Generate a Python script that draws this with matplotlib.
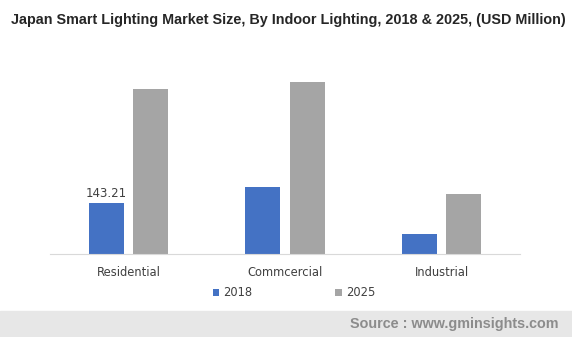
import numpy as np
import matplotlib.pyplot as plt
from matplotlib.patches import Rectangle

categories = ["Residential", "Commcercial", "Industrial"]
years = ["2018", "2025"]
values_2018 = [143.21, 188, 56]
values_2025 = [463, 483, 168]
colors = ["#4472C4", "#A5A5A5"]

plt.rcParams['font.family'] = ['Liberation Sans', 'DejaVu Sans']

fig = plt.figure(figsize=(5.72, 3.37), dpi=100)
W, H = 572, 337

# footer band
fig.patches.append(Rectangle((0, 0), 1, 26 / H, transform=fig.transFigure,
                             color="#e7e7e7", zorder=0))
fig.text(558 / W, 13 / H, "Source : www.gminsights.com", ha="right", va="center",
         fontsize=10.4, fontweight="bold", color="#8c8c8c")

fig.text(288 / W, 317 / H, "Japan Smart Lighting Market Size, By Indoor Lighting, 2018 & 2025, (USD Million)",
         ha="center", va="center", fontsize=10.35, fontweight="bold", color="#262626")

ax = fig.add_axes([50 / W, (337 - 254) / H, 470 / W, 194 / H])
x = np.arange(len(categories))
w = 0.223
b1 = ax.bar(x - 0.142, values_2018, w, color=colors[0], label=years[0])
b2 = ax.bar(x + 0.142, values_2025, w, color=colors[1], label=years[1])
ax.text(x[0] - 0.142, values_2018[0] + 8, f"{values_2018[0]:.2f}", ha="center", va="bottom",
        fontsize=8.5, color="#404040", family="DejaVu Sans")

ax.set_xlim(-0.5, 2.5)
ax.set_ylim(0, 545)
ax.set_xticks(x)
ax.set_xticklabels(categories, fontsize=8.3, color="#404040", family="DejaVu Sans")
ax.tick_params(axis="x", length=0, pad=9)
ax.set_yticks([])
for s in ["top", "right", "left"]:
    ax.spines[s].set_visible(False)
ax.spines["bottom"].set_color("#d9d9d9")

fig.legend(handles=[b1, b2], labels=years, loc="center", bbox_to_anchor=(294 / W, (337 - 293) / H),
           ncol=2, frameon=False, prop={"family": "DejaVu Sans", "size": 8.3},
           handlelength=0.55, handleheight=0.55, handletextpad=0.35, columnspacing=7.2,
           labelcolor="#404040")

fig.savefig("out.png", dpi=100)
